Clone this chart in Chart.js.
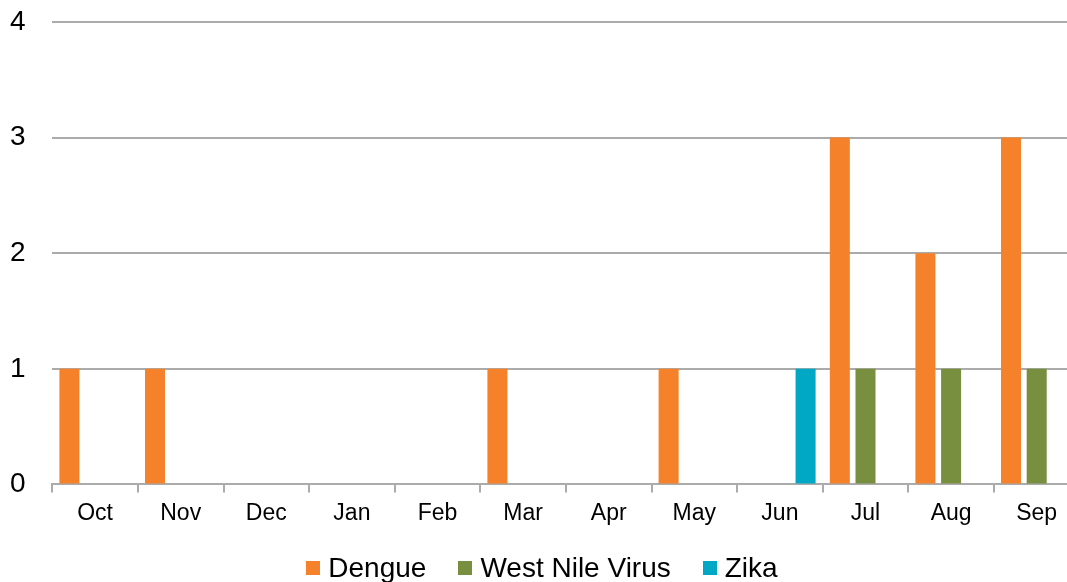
<!DOCTYPE html>
<html><head><meta charset="utf-8">
<script src="https://cdn.jsdelivr.net/npm/chart.js@4.4.1/dist/chart.umd.min.js"></script>
<style>
html,body{margin:0;padding:0;background:#fff;overflow:hidden;width:1067px;height:582px;position:relative;}
#wrap{position:absolute;left:0;top:0;width:1084px;height:582px;}
#legend{position:absolute;left:0;top:554px;width:1084px;display:flex;justify-content:center;font-family:"Liberation Sans",Arial,sans-serif;font-size:28px;line-height:28px;color:#000;}
.item{display:flex;align-items:center;margin:0 16px;white-space:nowrap;}
.box{width:14px;height:14px;margin-right:8px;flex:none;}
</style></head>
<body>
<div id="wrap"><canvas id="c" width="1084" height="582"></canvas></div>
<div id="legend"></div>
<script>
const categories = ["Oct","Nov","Dec","Jan","Feb","Mar","Apr","May","Jun","Jul","Aug","Sep"];
const dengue  = [1,1,0,0,0,1,0,1,0,3,2,3];
const westNile = [0,0,0,0,0,0,0,0,0,1,1,1];
const zika    = [0,0,0,0,0,0,0,0,1,0,0,0];
const seriesNames = ["Dengue","West Nile Virus","Zika"];
const seriesColors = ["#F5822A","#778F3F","#00A8C6"];
const yTicks = [0,1,2,3,4];

const gridColor = "#ababab";
const font = "'Liberation Sans', Arial, sans-serif";

const datasets = [dengue, westNile, zika].map((d, i) => ({
  label: seriesNames[i],
  data: d,
  backgroundColor: seriesColors[i],
  borderWidth: 0,
  barPercentage: 0.78,
  categoryPercentage: 0.9
}));

new Chart(document.getElementById("c"), {
  type: "bar",
  data: { labels: categories, datasets },
  options: {
    responsive: false,
    animation: false,
    layout: { padding: { left: 10, right: 4.5, top: 22, bottom: 48 } },
    plugins: { legend: { display: false }, tooltip: { enabled: false } },
    scales: {
      x: {
        grid: { display: true, drawOnChartArea: false, drawTicks: true, tickLength: 8, color: gridColor, lineWidth: 2, offset: true },
        border: { display: true, color: gridColor, width: 2 },
        ticks: { color: "#000", font: { family: font, size: 23 }, padding: 7, maxRotation: 0, autoSkip: false }
      },
      y: {
        min: yTicks[0], max: yTicks[yTicks.length - 1],
        afterFit: (s) => { s.width = 42.3; },
        afterBuildTicks: (s) => { s.ticks = yTicks.map(v => ({ value: v })); },
        grid: { color: gridColor, lineWidth: 2, drawTicks: false },
        border: { display: false },
        ticks: { color: "#000", font: { family: font, size: 28 }, padding: 0, crossAlign: "far" }
      }
    }
  }
});

const legend = document.getElementById("legend");
seriesNames.forEach((n, i) => {
  const it = document.createElement("div");
  it.className = "item";
  const b = document.createElement("span");
  b.className = "box";
  b.style.background = seriesColors[i];
  const t = document.createElement("span");
  t.textContent = n;
  it.appendChild(b); it.appendChild(t);
  legend.appendChild(it);
});
</script>
</body></html>
